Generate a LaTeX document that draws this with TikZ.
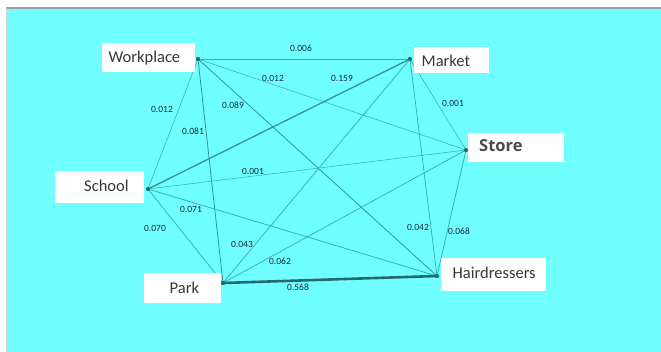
\documentclass[tikz,border=0pt]{standalone}
\usepackage{fontspec}
\setmainfont{Carlito}
\newfontfamily\storefont{Open Sans}
\definecolor{bgcyan}{RGB}{112,255,255}
\definecolor{frame}{RGB}{150,160,162}
\definecolor{edgeteal}{RGB}{55,175,178}
\definecolor{darkteal}{RGB}{35,105,110}
\definecolor{midteal}{RGB}{45,150,155}
\definecolor{labelink}{RGB}{25,40,60}
\definecolor{nameink}{RGB}{55,55,55}
\definecolor{dotteal}{RGB}{30,110,110}
\begin{document}
\begin{tikzpicture}[x=1pt,y=-1pt,
  vertex/.style={circle,fill=dotteal,inner sep=0pt,minimum size=4pt},
  nametext/.style={anchor=west,inner sep=0pt,text=nameink,font=\fontsize{16.5}{18}\selectfont},
  weight/.style={text=labelink,inner sep=0pt,font=\fontsize{9.5}{10}\selectfont},
  faint/.style={draw=edgeteal,line width=0.55pt},
  light/.style={draw=edgeteal,line width=0.75pt},
  medium/.style={draw=midteal,line width=0.8pt},
  strong/.style={draw=midteal,line width=1.3pt},
  heavy/.style={draw=darkteal,line width=2.6pt}]
% canvas and frame
\useasboundingbox (0,0) rectangle (661,352);
\fill[white] (0,0) rectangle (661,352);
\fill[bgcyan] (7,8.5) rectangle (661,352);
\draw[frame,line width=1.6pt] (6,7.8) -- (661,7.8);
\draw[frame!40,line width=0.6pt] (6.5,8) -- (6.5,352);

% place markers
\node[vertex] (W)  at (198,59)  {};
\node[vertex] (M)  at (410,59)  {};
\node[vertex] (St) at (466,150) {};
\node[vertex] (Sc) at (148,189) {};
\node[vertex] (P)  at (223,283) {};
\node[vertex] (H)  at (437,276) {};

% links, width by weight
\draw[faint]  (W.center) -- (M.center);
\draw[faint]  (W.center) -- (St.center);
\draw[medium] (W.center) -- (H.center);
\draw[faint]  (W.center) -- (Sc.center);
\draw[medium] (W.center) -- (P.center);
\draw[strong] (Sc.center) -- (M.center);
\draw[faint]  (M.center) -- (St.center);
\draw[light]  (M.center) -- (P.center);
\draw[light]  (M.center) -- (H.center);
\draw[faint]  (Sc.center) -- (St.center);
\draw[light]  (St.center) -- (P.center);
\draw[light]  (St.center) -- (H.center);
\draw[light]  (Sc.center) -- (P.center);
\draw[light]  (Sc.center) -- (H.center);
\draw[heavy]  (P.center) -- (H.center);

% markers on top of the links
\foreach \v in {W,M,St,Sc,P,H} \fill[dotteal] (\v) circle (2pt);

% weights
\node[weight] (lWM)  at (301,48)  {0.006};
\node[weight] (lWSt) at (273,78)  {0.012};
\node[weight] (lMSc) at (342,78)  {0.159};
\node[weight] (lWH)  at (233,105) {0.089};
\node[weight] (lWSc) at (162,109) {0.012};
\node[weight] (lWP)  at (193,131) {0.081};
\node[weight] (lMSt) at (453,103) {0.001};
\node[weight] (lScSt) at (253,171) {0.001};
\node[weight] (lScH) at (191,209) {0.071};
\node[weight] (lScP) at (155,228) {0.070};
\node[weight] (lMP)  at (242,244) {0.043};
\node[weight] (lStP) at (280,261) {0.062};
\node[weight] (lPH)  at (298,287) {0.568};
\node[weight] (lMH)  at (418,227) {0.042};
\node[weight] (lStH) at (459,231) {0.068};

% name plates
\fill[white] (102,43) rectangle (195,72);
\fill[white] (414,47) rectangle (489,73);
\fill[white] (468,133) rectangle (564,162);
\fill[white] (55,171) rectangle (144,203);
\fill[white] (144,273) rectangle (221,303);
\fill[white] (441,258) rectangle (546,291);

\node[nametext] (tW)  at (108.5,58) {Workplace};
\node[nametext] (tM)  at (421.5,61) {Market};
\node[nametext,font=\storefont\bfseries\fontsize{16.5}{18}\selectfont,text=nameink!90] (tSt) at (479,146) {Store};
\node[nametext] (tSc) at (84,186)  {School};
\node[nametext] (tP)  at (169.5,288) {Park};
\node[nametext] (tH)  at (452.5,273) {Hairdressers};
\end{tikzpicture}
\end{document}
